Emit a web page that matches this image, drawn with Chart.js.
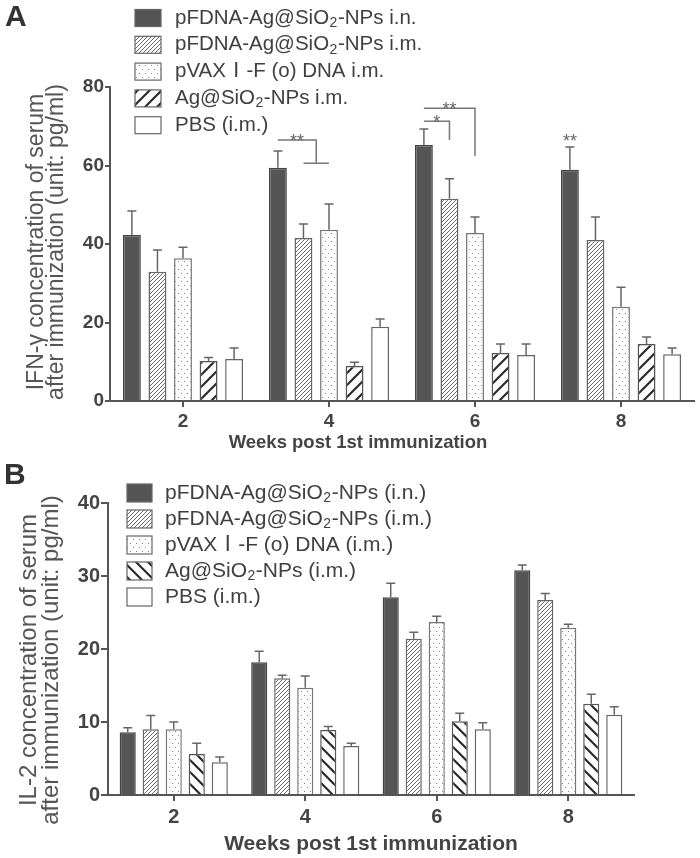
<!DOCTYPE html>
<html>
<head>
<meta charset="utf-8">
<script src="https://cdn.jsdelivr.net/npm/chart.js@4.4.1/dist/chart.umd.min.js"></script>
<style>
  html, body { margin: 0; padding: 0; background: #fff; }
  #wrap { position: relative; width: 700px; height: 858px; overflow: hidden;
          font-family: "Liberation Sans", Arial, sans-serif; color: #444; }
  canvas { position: absolute; left: 0; }
  #chartA { top: 0; }
  #chartB { top: 450px; }
  .panel { position: absolute; font-weight: bold; font-size: 30px; line-height: 30px; color: #333; }
  .xtitle { position: absolute; font-weight: bold; white-space: nowrap; transform: translateX(-50%); }
  .ytitle { position: absolute; width: 420px; text-align: center; white-space: nowrap;
            transform: rotate(-90deg); color: #555; }
</style>
</head>
<body>
<div id="wrap">
  <canvas id="chartA" width="700" height="450"></canvas>
  <canvas id="chartB" width="700" height="408"></canvas>

  <div class="panel" style="left:5px; top:1px;">A</div>
  <div class="panel" style="left:4px; top:459px;">B</div>

  <div class="ytitle" style="left:-165px; top:222px; font-size:23px; line-height:20px;">IFN-γ concentration of serum<br>after immunization (unit: pg/ml)</div>
  <div class="ytitle" style="left:-171px; top:638px; font-size:24px; line-height:22px;">IL-2 concentration of serum<br>after immunization (unit: pg/ml)</div>

  <div class="xtitle" style="left:358px; top:433px; font-size:18.5px; line-height:18.5px;">Weeks post 1st immunization</div>
  <div class="xtitle" style="left:371px; top:832px; font-size:21px; line-height:21px;">Weeks post 1st immunization</div>
</div>

<script>
// --- data ---
const weeks = ['2', '4', '6', '8'];

// panel A: IFN-γ (pg/ml), mean and upper SD
const ifnPfdnaIn  = [42.3, 59.4, 65.2, 58.9];
const ifnPfdnaIm  = [32.9, 41.5, 51.5, 41.0];
const ifnPvax     = [36.4, 43.6, 42.8, 24.0];
const ifnAgSi     = [10.2, 8.9, 12.2, 14.5];
const ifnPbs      = [10.7, 18.9, 11.7, 11.9];
const ifnErrIn    = [6.1, 4.3, 4.1, 5.8];
const ifnErrIm    = [5.6, 3.6, 5.1, 5.9];
const ifnErrPvax  = [2.8, 6.6, 4.1, 5.0];
const ifnErrAgSi  = [0.9, 1.0, 2.3, 1.8];
const ifnErrPbs   = [2.8, 2.0, 2.8, 1.6];

// panel B: IL-2 (pg/ml)
const il2PfdnaIn  = [8.6, 18.2, 27.1, 30.8];
const il2PfdnaIm  = [9.0, 16.0, 21.4, 26.7];
const il2Pvax     = [9.0, 14.7, 23.7, 22.9];
const il2AgSi     = [5.6, 8.9, 10.1, 12.5];
const il2Pbs      = [4.5, 6.7, 9.0, 11.0];
const il2ErrIn    = [0.6, 1.5, 1.9, 0.7];
const il2ErrIm    = [1.9, 0.4, 0.9, 0.9];
const il2ErrPvax  = [1.0, 1.6, 0.8, 0.5];
const il2ErrAgSi  = [1.5, 0.5, 1.1, 1.3];
const il2ErrPbs   = [0.7, 0.4, 0.9, 1.1];

// legend labels ("_2" = subscript 2)
const labelsA = ['pFDNA-Ag@SiO_2-NPs i.n.', 'pFDNA-Ag@SiO_2-NPs i.m.', 'pVAXⅠ-F (o) DNA i.m.', 'Ag@SiO_2-NPs i.m.', 'PBS (i.m.)'];
const labelsB = ['pFDNA-Ag@SiO_2-NPs (i.n.)', 'pFDNA-Ag@SiO_2-NPs (i.m.)', 'pVAXⅠ-F (o) DNA (i.m.)', 'Ag@SiO_2-NPs (i.m.)', 'PBS (i.m.)'];

const yTicksA = [0, 20, 40, 60, 80];
const yTicksB = [0, 10, 20, 30, 40];

// significance marks on panel A (week index, bar index from -> to, bracket heights in pg/ml)
const sigMarks = [
  { week: 1, from: 0, to: [1, 2], top: 66.5, bottom: 60.6, text: '**' },
  { week: 2, from: 0, to: [1],    top: 71.3, bottom: 66.5, text: '*' },
  { week: 2, from: 0, to: [2],    top: 74.6, bottom: 62.4, text: '**' },
  { week: 3, from: 0, to: [],     top: 66.5, text: '**' }
];

const FONT = '"Liberation Sans", Arial, "Noto Sans CJK SC", sans-serif';
const AXIS = '#555';

// --- fill patterns ---
function tile(w, h, draw) {
  const c = document.createElement('canvas');
  c.width = w; c.height = h;
  const g = c.getContext('2d');
  g.fillStyle = '#fff';
  g.fillRect(0, 0, w, h);
  draw(g);
  return c.getContext('2d').createPattern(c, 'repeat');
}

function fineHatch() {
  return tile(4, 4, g => {
    g.strokeStyle = '#555'; g.lineWidth = 0.9;
    g.beginPath();
    g.moveTo(-1, 5); g.lineTo(5, -1);
    g.moveTo(-1, 1); g.lineTo(1, -1);
    g.moveTo(3, 5); g.lineTo(5, 3);
    g.stroke();
  });
}

function dots() {
  return tile(6, 8, g => {
    g.fillStyle = '#888';
    g.fillRect(1, 1, 1, 1);
    g.fillRect(4, 5, 1, 1);
  });
}

function boldHatch(back) {
  return tile(12, 12, g => {
    g.strokeStyle = '#2a2a2a'; g.lineWidth = 2.2;
    g.beginPath();
    if (back) {
      g.moveTo(-2, -2); g.lineTo(14, 14);
      g.moveTo(-2, 10); g.lineTo(2, 14);
      g.moveTo(10, -2); g.lineTo(14, 2);
    } else {
      g.moveTo(-2, 14); g.lineTo(14, -2);
      g.moveTo(-2, 2); g.lineTo(2, -2);
      g.moveTo(10, 14); g.lineTo(14, 10);
    }
    g.stroke();
  });
}

function makeDatasets(labels, values, errors, agBack) {
  const fills = ['#555555', fineHatch(), dots(), boldHatch(agBack), '#ffffff'];
  const borders = ['#444', '#666', '#777', '#555', '#666'];
  return labels.map((lab, i) => ({
    label: lab,
    data: values[i],
    errors: errors[i],
    backgroundColor: fills[i],
    borderColor: borders[i],
    borderWidth: 1.5,
    borderSkipped: 'bottom'
  }));
}

// --- plugins ---
const errorBars = {
  id: 'errorBars',
  afterDatasetsDraw(chart, args, opts) {
    const { ctx, scales: { y } } = chart;
    ctx.save();
    ctx.strokeStyle = '#666';
    ctx.lineWidth = 1.5;
    chart.data.datasets.forEach((ds, i) => {
      chart.getDatasetMeta(i).data.forEach((bar, j) => {
        const top = y.getPixelForValue(ds.data[j] + ds.errors[j]);
        ctx.beginPath();
        ctx.moveTo(bar.x, bar.y);
        ctx.lineTo(bar.x, top);
        ctx.moveTo(bar.x - opts.cap, top);
        ctx.lineTo(bar.x + opts.cap, top);
        ctx.stroke();
      });
    });
    ctx.restore();
  }
};

function drawRich(ctx, text, x, y, size) {
  const parts = text.split('_2');
  let cx = x;
  parts.forEach((p, i) => {
    ctx.font = `${size}px ${FONT}`;
    ctx.fillText(p, cx, y);
    cx += ctx.measureText(p).width;
    if (i < parts.length - 1) {
      ctx.font = `${Math.round(size * 0.68)}px ${FONT}`;
      ctx.fillText('2', cx + 0.5, y + size * 0.25);
      cx += ctx.measureText('2').width + 1;
    }
  });
}

const patternLegend = {
  id: 'patternLegend',
  afterDraw(chart, args, o) {
    const { ctx } = chart;
    ctx.save();
    ctx.textBaseline = 'middle';
    ctx.textAlign = 'left';
    chart.data.datasets.forEach((ds, i) => {
      const cy = o.y + i * o.step;
      ctx.fillStyle = ds.backgroundColor;
      ctx.fillRect(o.x, cy - o.h / 2, o.w, o.h);
      ctx.strokeStyle = '#666';
      ctx.lineWidth = 1.2;
      ctx.strokeRect(o.x, cy - o.h / 2, o.w, o.h);
      ctx.fillStyle = '#404040';
      drawRich(ctx, ds.label, o.textX, cy, o.size);
    });
    ctx.restore();
  }
};

const sigPlugin = {
  id: 'sigPlugin',
  afterDatasetsDraw(chart, args, o) {
    if (!o.marks) return;
    const { ctx, scales: { y } } = chart;
    const px = (s, w) => chart.getDatasetMeta(s).data[w].x;
    ctx.save();
    ctx.strokeStyle = '#777';
    ctx.fillStyle = '#666';
    ctx.lineWidth = 1.5;
    ctx.font = `18px ${FONT}`;
    ctx.textAlign = 'center';
    ctx.textBaseline = 'middle';
    o.marks.forEach(m => {
      const x0 = px(m.from, m.week);
      const yt = y.getPixelForValue(m.top);
      let tx = x0;
      if (m.to.length) {
        const yb = y.getPixelForValue(m.bottom);
        const xa = px(m.to[0], m.week);
        const xb = px(m.to[m.to.length - 1], m.week);
        const xm = (xa + xb) / 2;
        ctx.beginPath();
        ctx.moveTo(x0, yt); ctx.lineTo(xm, yt); ctx.lineTo(xm, yb);
        if (m.to.length > 1) { ctx.moveTo(xa, yb); ctx.lineTo(xb, yb); }
        ctx.stroke();
        tx = (x0 + xm) / 2;
      }
      ctx.fillText(m.text, tx, yt + 2);
    });
    ctx.restore();
  }
};

// --- chart factory ---
function buildChart(id, cfg) {
  return new Chart(document.getElementById(id), {
    type: 'bar',
    data: { labels: weeks, datasets: cfg.datasets },
    options: {
      responsive: false,
      animation: false,
      events: [],
      layout: { padding: { top: cfg.top, right: cfg.right, left: 0, bottom: 0 } },
      datasets: { bar: { categoryPercentage: 0.875, barPercentage: 0.7 } },
      scales: {
        x: {
          grid: { display: true, drawOnChartArea: false, offset: false, tickLength: 6, color: AXIS, lineWidth: 2 },
          border: { color: AXIS, width: 2 },
          ticks: { color: '#444', padding: cfg.xPad, font: { family: FONT, size: cfg.tickSize, weight: 'bold' } },
          afterFit: s => { s.height = cfg.xHeight; }
        },
        y: {
          min: cfg.yTicks[0],
          max: cfg.yTicks[cfg.yTicks.length - 1],
          afterBuildTicks: s => { s.ticks = cfg.yTicks.map(v => ({ value: v })); },
          grid: { display: true, drawOnChartArea: false, tickLength: cfg.yTickLen, color: AXIS, lineWidth: 2 },
          border: { color: AXIS, width: 2 },
          ticks: { color: '#444', padding: 1, font: { family: FONT, size: cfg.tickSize, weight: 'bold' } },
          afterFit: s => { s.width = cfg.yWidth; }
        }
      },
      plugins: {
        legend: { display: false },
        tooltip: { enabled: false },
        errorBars: { cap: cfg.cap },
        patternLegend: cfg.legend,
        sigPlugin: { marks: cfg.marks }
      }
    },
    plugins: [errorBars, patternLegend, sigPlugin]
  });
}

buildChart('chartA', {
  datasets: makeDatasets(labelsA,
    [ifnPfdnaIn, ifnPfdnaIm, ifnPvax, ifnAgSi, ifnPbs],
    [ifnErrIn, ifnErrIm, ifnErrPvax, ifnErrAgSi, ifnErrPbs], false),
  yTicks: yTicksA,
  top: 87, right: 6, xHeight: 49, yWidth: 110,
  tickSize: 19, xPad: 3, yTickLen: 5, cap: 4.5,
  legend: { x: 135, y: 18, step: 26.8, w: 26, h: 17, textX: 175, size: 20.5 },
  marks: sigMarks
});

buildChart('chartB', {
  datasets: makeDatasets(labelsB,
    [il2PfdnaIn, il2PfdnaIm, il2Pvax, il2AgSi, il2Pbs],
    [il2ErrIn, il2ErrIm, il2ErrPvax, il2ErrAgSi, il2ErrPbs], true),
  yTicks: yTicksB,
  top: 53, right: 66, xHeight: 63, yWidth: 108,
  tickSize: 20, xPad: 4, yTickLen: 7, cap: 4.5,
  legend: { x: 127, y: 43, step: 26, w: 25, h: 18, textX: 165, size: 21 },
  marks: null
});
</script>
</body>
</html>
